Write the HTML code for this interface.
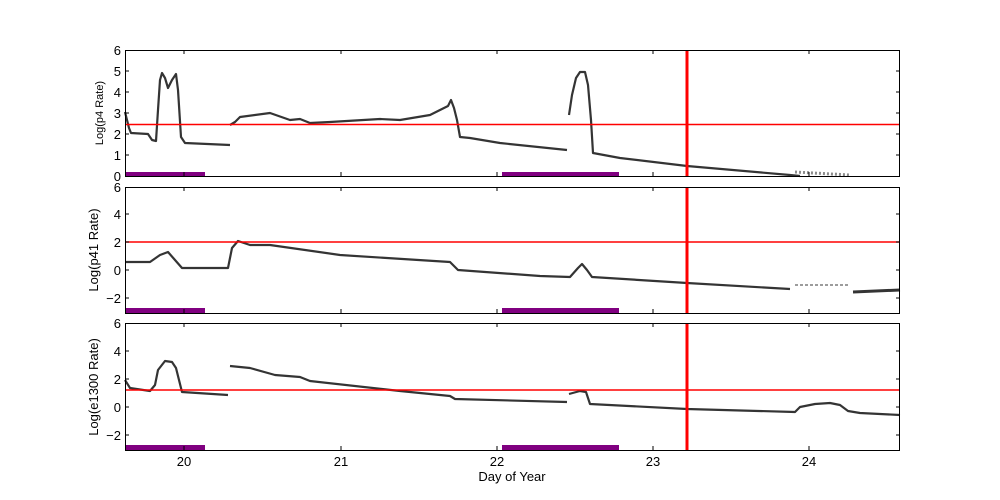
<!DOCTYPE html>
<html><head><style>
body{margin:0;background:#fff;}
svg{display:block;font-family:"Liberation Sans",sans-serif;}
</style></head><body>
<svg width="1000" height="500" viewBox="0 0 1000 500" xmlns="http://www.w3.org/2000/svg">
<rect width="1000" height="500" fill="#fff"/>
<g fill="none" stroke="#111" stroke-width="2.2" stroke-linejoin="round" opacity="0.85">
<!-- panel 1 -->
<polyline points="125,112 127,120 129,128 131,133 148,134 152,140 156,141 158,110 160,80 162,73 165,78 168,88 172,80 176,74 178,90 181,137 185,143 230,145"/>
<polyline points="230,125 235,122 240,117 270,113 290,120 300,119 310,123 330,122 380,119 400,120 430,115 448,106 451,100 454,108 457,120 460,137 470,138 500,143 567,150"/>
<polyline points="569,115 572,95 576,78 580,72 585,72 588,85 591,120 593,153 620,158 687,166 790,175 800,176"/>
<polyline points="795,172 850,175" stroke="#777" stroke-width="3" stroke-dasharray="2,2"/>
<!-- panel 2 -->
<polyline points="125,262 150,262 160,255 168,252 175,260 182,268 228,268 232,248 238,241 250,245 270,245 340,255 450,262 458,270 540,276 570,277 578,268 582,264 587,270 592,277 687,283 790,289"/>
<polyline points="795,285 850,285" stroke="#666" stroke-width="1.5" stroke-dasharray="3,2"/>
<polyline points="853,292 900,290" stroke-width="3"/>
<!-- panel 3 -->
<polyline points="125,380 130,388 150,391 155,385 158,370 165,361 172,362 176,368 182,392 228,395"/>
<polyline points="230,366 250,368 275,375 300,377 310,381 400,391 450,396 455,399 567,402"/>
<polyline points="569,394 580,391 586,392 590,404 687,409 795,412 800,407 815,404 830,403 840,405 848,411 860,413 900,415"/>
</g>
<!-- red lines -->
<g stroke="red">
<line x1="125" y1="124.5" x2="900" y2="124.5" stroke-width="1.5"/>
<line x1="125" y1="242" x2="900" y2="242" stroke-width="1.5"/>
<line x1="125" y1="390" x2="900" y2="390" stroke-width="1.5"/>
<line x1="687" y1="50" x2="687" y2="176" stroke-width="3"/>
<line x1="687" y1="187" x2="687" y2="313" stroke-width="3"/>
<line x1="687" y1="323" x2="687" y2="450" stroke-width="3"/>
</g>
<!-- purple bars -->
<g fill="#800080">
<rect x="125" y="172" width="80" height="5"/><rect x="502" y="172" width="117" height="5"/>
<rect x="125" y="308" width="80" height="5"/><rect x="502" y="308" width="117" height="5"/>
<rect x="125" y="445" width="80" height="5"/><rect x="502" y="445" width="117" height="5"/>
</g>
<!-- axes -->
<g fill="none" stroke="#000" stroke-width="1">
<rect x="125.5" y="50.5" width="774" height="126"/>
<rect x="125.5" y="187.5" width="774" height="126"/>
<rect x="125.5" y="323.5" width="774" height="127"/>
</g>
<g stroke="#000" stroke-width="1">
<path d="M184,450v-4M341,450v-4M497,450v-4M653,450v-4M809,450v-4M184,323v4M341,323v4M497,323v4M653,323v4M809,323v4
M184,313v-4M341,313v-4M497,313v-4M653,313v-4M809,313v-4M184,187v4M341,187v4M497,187v4M653,187v4M809,187v4
M184,176v-4M341,176v-4M497,176v-4M653,176v-4M809,176v-4M184,50v4M341,50v4M497,50v4M653,50v4M809,50v4
M125,71h4M125,92h4M125,113h4M125,134h4M125,155h4M900,71h-4M900,92h-4M900,113h-4M900,134h-4M900,155h-4
M125,214h4M125,242h4M125,270h4M125,298h4M900,214h-4M900,242h-4M900,270h-4M900,298h-4
M125,351h4M125,379h4M125,407h4M125,435h4M900,351h-4M900,379h-4M900,407h-4M900,435h-4"/>
</g>
<g font-size="13" fill="#000" text-anchor="end">
<text x="121" y="55">6</text><text x="121" y="76">5</text><text x="121" y="97">4</text><text x="121" y="118">3</text><text x="121" y="139">2</text><text x="121" y="160">1</text><text x="121" y="181">0</text>
<text x="121" y="192">6</text><text x="121" y="219">4</text><text x="121" y="247">2</text><text x="121" y="275">0</text><text x="121" y="303">−2</text>
<text x="121" y="328">6</text><text x="121" y="356">4</text><text x="121" y="384">2</text><text x="121" y="412">0</text><text x="121" y="440">−2</text>
</g>
<g font-size="13" fill="#000" text-anchor="middle">
<text x="184" y="466">20</text><text x="341" y="466">21</text><text x="497" y="466">22</text><text x="653" y="466">23</text><text x="809" y="466">24</text>
<text x="512" y="481">Day of Year</text>
</g>
<text transform="translate(103,113) rotate(-90)" font-size="11" text-anchor="middle">Log(p4 Rate)</text>
<text transform="translate(98,250) rotate(-90)" font-size="13" text-anchor="middle">Log(p41 Rate)</text>
<text transform="translate(98,387) rotate(-90)" font-size="13" text-anchor="middle">Log(e1300 Rate)</text>
</svg>
</body></html>
